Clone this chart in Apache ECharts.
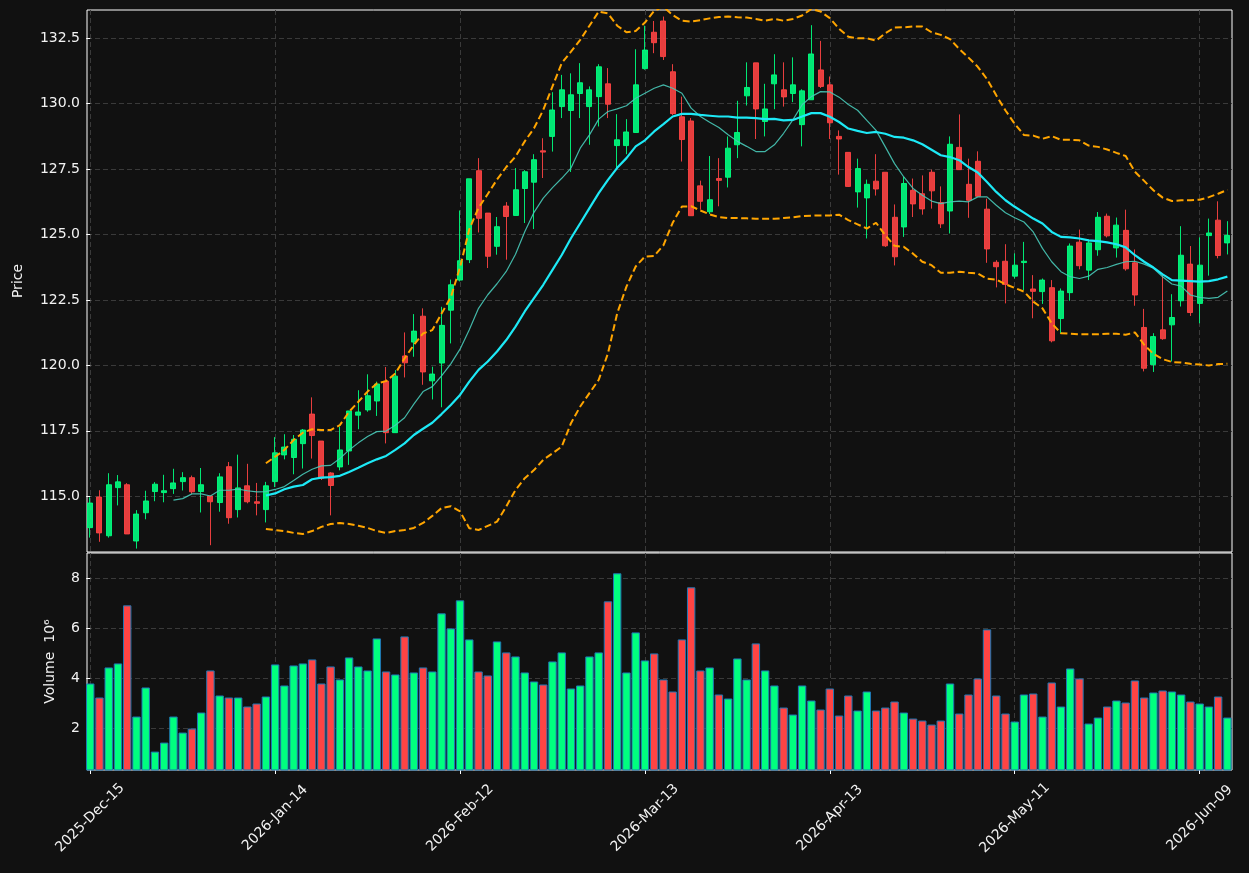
<!DOCTYPE html>
<html>
<head>
<meta charset="utf-8">
<title>Price chart</title>
<script src="https://cdn.jsdelivr.net/npm/echarts@6/dist/echarts.min.js"></script>
<style>
  html, body { margin: 0; padding: 0; background: #111111; }
  #chart { width: 1249px; height: 873px; }
</style>
</head>
<body>
<div id="chart"></div>
<script>
// daily bars, index 0 = 2025-12-15 (trading days only)
const tickIdx = [0, 20, 40, 60, 80, 100, 120];
const tickLabels = ['2025-Dec-15', '2026-Jan-14', '2026-Feb-12', '2026-Mar-13', '2026-Apr-13', '2026-May-11', '2026-Jun-09'];
const priceTicks = [115, 117.5, 120, 122.5, 125, 127.5, 130, 132.5];
const volTicks = [2, 4, 6, 8];

const open = [113.80,114.97,113.49,115.33,115.44,113.29,114.37,115.18,115.14,115.29,
  115.56,115.71,115.18,115.01,114.76,116.13,114.49,115.40,114.79,114.49,
  115.56,116.58,116.48,117.01,118.14,117.11,115.89,116.12,116.73,118.10,
  118.30,118.64,119.40,117.43,120.36,120.89,121.88,119.41,120.09,122.11,
  123.26,124.04,127.44,125.82,124.55,126.09,125.73,126.76,127.00,128.20,
  128.75,129.89,129.74,130.39,129.89,130.27,130.76,128.40,128.40,128.90,
  131.34,132.73,133.16,131.22,129.50,129.34,126.86,125.87,127.14,127.19,
  128.43,130.30,131.56,129.32,130.76,130.53,130.39,129.20,130.15,131.29,
  130.72,128.75,128.14,126.63,126.40,127.04,127.38,125.66,125.29,126.69,
  126.56,127.38,126.22,125.90,128.33,126.92,127.80,125.97,123.94,123.98,
  123.41,123.93,122.92,122.82,122.97,121.79,122.78,124.71,123.64,124.42,
  125.70,124.49,125.16,123.92,121.45,120.03,121.36,121.55,122.47,123.87,
  122.37,124.96,125.55,124.68];
const high = [114.96,115.23,115.88,115.81,115.50,114.47,115.21,115.54,115.82,116.05,
  115.92,115.79,116.08,115.01,115.88,116.31,116.59,116.24,115.51,115.55,
  117.26,117.37,117.34,117.57,118.78,117.11,115.92,117.66,118.26,119.05,
  119.66,119.38,119.94,119.82,121.26,121.96,122.18,119.95,122.24,123.28,
  125.92,127.13,127.92,125.82,125.67,126.24,127.54,127.46,128.07,128.68,
  130.44,131.10,131.16,131.55,130.66,131.51,131.36,129.60,129.41,132.08,
  132.98,133.16,133.33,131.51,130.27,129.45,127.06,128.00,127.92,128.75,
  130.11,131.58,131.56,130.76,131.89,131.58,131.77,130.55,133.00,132.40,
  131.04,128.98,128.14,127.90,127.10,128.07,127.38,126.15,127.20,127.14,
  127.26,127.48,126.84,128.75,129.59,127.90,128.18,126.37,124.02,124.63,
  124.28,124.72,123.45,123.32,123.26,122.94,124.66,125.19,124.81,125.86,
  125.80,125.65,125.95,124.43,122.16,121.23,123.48,122.72,125.32,124.56,
  124.89,125.61,126.27,125.51];
const low = [113.42,113.26,113.42,114.65,113.56,113.00,114.12,114.81,114.77,115.09,
  115.22,115.09,114.38,113.13,114.41,113.95,114.19,114.73,114.27,114.00,
  115.35,116.41,115.84,116.06,116.44,115.62,114.27,115.99,116.20,117.56,
  118.23,118.07,117.02,117.43,119.54,120.33,119.26,118.70,118.40,120.84,
  123.21,123.91,125.08,123.72,124.23,124.04,125.73,125.44,125.21,127.16,
  128.17,129.45,127.39,129.45,128.43,129.13,129.45,127.51,128.07,128.90,
  131.30,131.93,131.67,129.57,127.79,125.72,125.95,125.78,126.08,126.80,
  127.92,129.93,128.65,128.75,129.79,129.89,130.06,128.37,130.15,130.60,
  128.65,127.29,126.82,126.03,124.85,126.49,124.53,123.82,124.91,125.67,
  125.76,125.99,125.25,125.04,127.48,125.64,126.46,123.92,122.98,122.37,
  123.32,122.88,121.80,122.35,120.88,121.23,122.47,123.67,123.26,124.19,
  124.89,124.12,123.62,122.28,119.77,119.75,120.98,120.15,122.25,121.89,
  121.61,123.43,124.09,124.24];
const close = [114.74,113.60,115.44,115.55,113.56,114.32,114.82,115.46,115.21,115.51,
  115.71,115.17,115.44,114.79,115.74,114.18,115.32,114.79,114.73,115.40,
  116.66,116.88,117.18,117.53,117.32,115.69,115.41,116.77,118.26,118.22,
  118.84,119.29,117.43,119.59,120.10,121.31,119.75,119.67,121.53,123.08,
  124.00,127.13,125.62,124.17,125.30,125.69,126.71,127.40,127.86,128.15,
  129.76,130.53,130.34,130.80,130.53,131.41,129.98,128.62,128.92,130.72,
  132.05,132.33,131.80,129.62,128.63,125.72,126.27,126.33,127.07,128.30,
  128.90,130.62,129.80,129.80,131.10,130.26,130.72,130.49,131.90,130.66,
  129.27,128.65,126.84,127.52,126.92,126.74,124.57,124.15,126.95,126.17,
  125.98,126.67,125.41,128.45,127.48,126.31,126.46,124.45,123.77,123.09,
  123.83,123.98,122.83,123.26,120.94,122.84,124.56,123.81,124.68,125.66,
  124.95,125.36,123.69,122.69,119.89,121.10,121.02,121.83,124.21,122.02,
  123.83,125.06,124.20,124.97];

// volume in millions
const volume = [3.80,3.24,4.44,4.60,6.92,2.48,3.64,1.08,1.44,2.48,
  1.84,2.00,2.64,4.32,3.32,3.24,3.24,2.88,3.00,3.28,
  4.56,3.72,4.52,4.60,4.76,3.80,4.48,3.96,4.84,4.48,
  4.32,5.60,4.28,4.16,5.68,4.24,4.44,4.28,6.60,6.00,
  7.12,5.56,4.28,4.12,5.48,5.04,4.88,4.24,3.88,3.76,
  4.68,5.04,3.60,3.72,4.88,5.04,7.08,8.20,4.24,5.84,
  4.72,5.00,3.96,3.48,5.56,7.64,4.32,4.44,3.36,3.20,
  4.80,3.96,5.40,4.32,3.72,2.84,2.56,3.72,3.12,2.76,
  3.60,2.52,3.32,2.72,3.48,2.72,2.84,3.08,2.64,2.40,
  2.32,2.16,2.32,3.80,2.60,3.36,4.00,5.96,3.32,2.60,
  2.28,3.36,3.40,2.48,3.84,2.88,4.40,4.00,2.20,2.44,
  2.88,3.12,3.04,3.92,3.24,3.44,3.52,3.48,3.36,3.08,
  3.00,2.88,3.28,2.44];

// 10-bar average (thin), starts at bar 9
const maFast = [null,null,null,null,null,null,null,null,null,114.85,
  114.91,115.09,115.09,115.01,115.23,115.23,115.27,115.21,115.17,115.18,
  115.26,115.37,115.60,115.84,116.03,116.16,116.18,116.44,116.77,117.04,
  117.28,117.47,117.49,117.71,118.00,118.52,119.00,119.19,119.60,120.06,
  120.62,121.36,122.18,122.70,123.12,123.59,124.25,125.11,125.85,126.39,
  126.79,127.15,127.54,128.30,128.81,129.41,129.70,129.80,129.92,130.21,
  130.40,130.59,130.72,130.59,130.40,129.83,129.51,129.29,129.09,128.81,
  128.56,128.37,128.17,128.17,128.43,128.87,129.38,129.96,130.27,130.46,
  130.45,130.25,129.97,129.75,129.36,128.98,128.35,127.71,127.20,126.76,
  126.50,126.28,126.18,126.25,126.28,126.25,126.44,126.44,126.12,125.83,
  125.64,125.48,125.10,124.47,123.96,123.58,123.39,123.32,123.41,123.67,
  123.74,123.86,123.96,123.98,123.87,123.71,123.39,123.11,123.03,122.69,
  122.60,122.56,122.60,122.84];

// 20-bar average (thick), starts at bar 19
const maSlow = [null,null,null,null,null,null,null,null,null,null,
  null,null,null,null,null,null,null,null,null,115.03,
  115.11,115.27,115.37,115.43,115.65,115.71,115.73,115.78,115.93,116.09,
  116.26,116.41,116.54,116.77,117.02,117.34,117.58,117.81,118.14,118.49,
  118.87,119.38,119.83,120.15,120.53,120.97,121.48,122.06,122.57,123.08,
  123.65,124.22,124.86,125.43,126.01,126.58,127.09,127.55,127.92,128.37,
  128.60,128.94,129.22,129.51,129.61,129.61,129.57,129.54,129.51,129.51,
  129.47,129.47,129.45,129.41,129.42,129.36,129.38,129.51,129.64,129.64,
  129.50,129.30,129.05,128.96,128.88,128.92,128.85,128.73,128.70,128.60,
  128.45,128.24,128.03,127.96,127.84,127.58,127.37,127.01,126.63,126.31,
  126.06,125.84,125.61,125.42,125.10,124.91,124.89,124.85,124.78,124.75,
  124.70,124.63,124.51,124.21,123.96,123.74,123.48,123.26,123.24,123.22,
  123.20,123.22,123.29,123.39];

// bollinger bands
const bandUpper = [null,null,null,null,null,null,null,null,null,null,
  null,null,null,null,null,null,null,null,null,116.26,
  116.51,116.77,117.15,117.43,117.56,117.53,117.53,117.72,118.23,118.61,
  119.00,119.31,119.40,119.69,120.27,120.78,121.22,121.35,121.98,122.60,
  123.75,125.20,126.02,126.55,127.10,127.58,127.98,128.56,129.06,129.76,
  130.66,131.55,131.99,132.44,132.98,133.52,133.45,132.98,132.73,132.78,
  133.10,133.55,133.70,133.39,133.17,133.14,133.19,133.26,133.31,133.33,
  133.30,133.29,133.24,133.17,133.24,133.17,133.24,133.37,133.62,133.52,
  133.27,132.86,132.56,132.50,132.50,132.41,132.69,132.91,132.92,132.95,
  132.95,132.73,132.63,132.47,132.09,131.76,131.41,130.94,130.32,129.74,
  129.23,128.80,128.78,128.66,128.76,128.62,128.62,128.60,128.40,128.35,
  128.25,128.12,128.00,127.40,127.05,126.69,126.41,126.28,126.31,126.31,
  126.33,126.43,126.56,126.71];
const bandLower = [null,null,null,null,null,null,null,null,null,null,
  null,null,null,null,null,null,null,null,null,113.75,
  113.71,113.67,113.60,113.56,113.67,113.83,113.94,113.98,113.94,113.87,
  113.79,113.67,113.60,113.67,113.71,113.79,113.98,114.25,114.55,114.62,
  114.42,113.78,113.71,113.87,114.03,114.61,115.24,115.69,116.00,116.39,
  116.64,116.90,117.79,118.43,118.94,119.45,120.46,121.99,123.01,123.78,
  124.16,124.18,124.59,125.45,126.07,126.08,125.92,125.77,125.67,125.63,
  125.63,125.62,125.60,125.60,125.60,125.63,125.66,125.71,125.72,125.73,
  125.73,125.76,125.55,125.39,125.23,125.45,124.97,124.57,124.53,124.27,
  123.96,123.83,123.54,123.54,123.58,123.54,123.51,123.31,123.28,123.10,
  122.96,122.82,122.44,122.18,121.61,121.23,121.21,121.19,121.19,121.19,
  121.21,121.21,121.17,121.26,120.79,120.44,120.24,120.13,120.11,120.06,
  120.03,120.00,120.05,120.06];

const UP = '#00ff7f';
const DOWN = '#ff4444';
const TXT = '#f2f2f2';
const GRIDLINE = { show: true, lineStyle: { color: '#3a3a3a', type: [5, 3], width: 1 } };
const FONT = 'DejaVu Sans';

const xy = arr => arr.map((v, i) => [i, v]).filter(p => p[1] !== null);
const dateLabel = v => {
  const k = tickIdx.indexOf(Math.round(v));
  return k >= 0 ? tickLabels[k] : '';
};

const chart = echarts.init(document.getElementById('chart'));

const option = {
  backgroundColor: '#111111',
  animation: false,
  textStyle: { fontFamily: FONT },
  grid: [
    { left: 87, right: 17, top: 10, height: 542, show: true, borderColor: '#ffffff', borderWidth: 1 },
    { left: 87, right: 17, top: 553, height: 217, show: true, borderColor: '#ffffff', borderWidth: 1 }
  ],
  xAxis: [
    {
      gridIndex: 0, type: 'value', min: -0.35, max: 123.5,
      axisLine: { show: false },
      axisTick: { show: false, customValues: tickIdx },
      axisLabel: { show: false, customValues: tickIdx },
      splitLine: GRIDLINE
    },
    {
      gridIndex: 1, type: 'value', min: -0.35, max: 123.5,
      axisLine: { show: false },
      axisTick: { show: true, length: 4, customValues: tickIdx, lineStyle: { color: '#ffffff' } },
      axisLabel: {
        customValues: tickIdx, formatter: dateLabel, rotate: 45, margin: 48,
        align: 'center', verticalAlign: 'middle',
        color: TXT, fontSize: 14, fontFamily: FONT
      },
      splitLine: GRIDLINE
    }
  ],
  yAxis: [
    {
      gridIndex: 0, type: 'value', min: 112.87, max: 133.58,
      name: 'Price', nameLocation: 'middle', nameGap: 62, nameRotate: 90,
      nameTextStyle: { color: TXT, fontSize: 14, fontFamily: FONT },
      axisLine: { show: false },
      axisTick: { show: true, length: 4, customValues: priceTicks, lineStyle: { color: '#ffffff' } },
      axisLabel: {
        customValues: priceTicks, formatter: v => v.toFixed(1),
        color: TXT, fontSize: 14, fontFamily: FONT, margin: 7
      },
      splitLine: GRIDLINE
    },
    {
      gridIndex: 1, type: 'value', min: 0.345, max: 9.01,
      name: 'Volume  10\u2076', nameLocation: 'middle', nameGap: 30, nameRotate: 90,
      nameTextStyle: { color: TXT, fontSize: 14, fontFamily: FONT },
      axisLine: { show: false },
      axisTick: { show: true, length: 4, customValues: volTicks, lineStyle: { color: '#ffffff' } },
      axisLabel: {
        customValues: volTicks, formatter: v => String(v),
        color: TXT, fontSize: 14, fontFamily: FONT, margin: 7
      },
      splitLine: GRIDLINE
    }
  ],
  series: [
    {
      name: 'Candles', type: 'candlestick', xAxisIndex: 0, yAxisIndex: 0,
      barWidth: 5.5,
      encode: { x: 0, y: [1, 2, 3, 4] },
      data: open.map((o, i) => [i, o, close[i], low[i], high[i]]),
      itemStyle: {
        color: UP, color0: DOWN, borderColor: UP, borderColor0: DOWN,
        borderWidth: 1, opacity: 0.9
      }
    },
    {
      name: 'MA10', type: 'line', xAxisIndex: 0, yAxisIndex: 0,
      data: xy(maFast), showSymbol: false, silent: true,
      lineStyle: { color: '#48c9b8', width: 1.2, opacity: 0.9 }
    },
    {
      name: 'MA20', type: 'line', xAxisIndex: 0, yAxisIndex: 0,
      data: xy(maSlow), showSymbol: false, silent: true,
      lineStyle: { color: '#1de9f6', width: 2.2 }
    },
    {
      name: 'Upper', type: 'line', xAxisIndex: 0, yAxisIndex: 0,
      data: xy(bandUpper), showSymbol: false, silent: true,
      lineStyle: { color: '#ffa500', width: 2, type: [7, 3.5] }
    },
    {
      name: 'Lower', type: 'line', xAxisIndex: 0, yAxisIndex: 0,
      data: xy(bandLower), showSymbol: false, silent: true,
      lineStyle: { color: '#ffa500', width: 2, type: [7, 3.5] }
    },
    {
      name: 'Volume', type: 'bar', xAxisIndex: 1, yAxisIndex: 1,
      barWidth: 8.4,
      data: volume.map((v, i) => ({
        value: [i, v],
        itemStyle: { color: close[i] >= open[i] ? UP : DOWN }
      })),
      itemStyle: { borderColor: '#1f77b4', borderWidth: 1 }
    }
  ]
};

chart.setOption(option);
</script>
</body>
</html>
